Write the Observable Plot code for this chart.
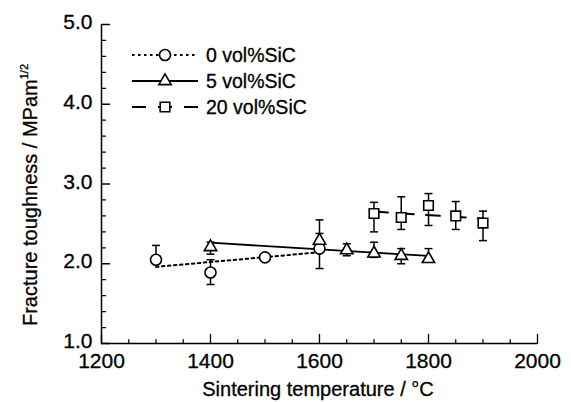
<!DOCTYPE html>
<html>
<head>
<meta charset="utf-8">
<script src="https://cdn.jsdelivr.net/npm/d3@7"></script>
<script src="https://cdn.jsdelivr.net/npm/@observablehq/plot@0.6"></script>
<style>
  body { margin: 0; background: #fff; }
  #chart { width: 571px; height: 402px; }
  #chart svg text { stroke: black; stroke-width: 0.3px; }
</style>
</head>
<body>
<div id="chart"></div>
<script>
// Fracture toughness (MPa·m^1/2) vs. sintering temperature (°C)
// 0 vol% SiC
const temps0 = [1300, 1400, 1500, 1600];
const tough0 = [2.05, 1.89, 2.08, 2.19];
const low0   = [2.05, 1.74, 2.08, 1.94];
const high0  = [2.23, 2.05, 2.08, 2.55];

// 5 vol% SiC
const temps5 = [1400, 1600, 1650, 1700, 1750, 1800];
const tough5 = [2.21, 2.29, 2.17, 2.13, 2.10, 2.06];
const low5   = [2.12, 2.20, 2.10, 2.08, 2.00, 2.06];
const high5  = [2.27, 2.38, 2.25, 2.27, 2.19, 2.19];

// 20 vol% SiC
const temps20 = [1700, 1750, 1800, 1850, 1900];
const tough20 = [2.63, 2.58, 2.73, 2.60, 2.51];
const low20   = [2.40, 2.43, 2.48, 2.43, 2.29];
const high20  = [2.77, 2.84, 2.88, 2.78, 2.66];

const seriesNames = ["0 vol%SiC", "5 vol%SiC", "20 vol%SiC"];

// Axis ticks
const xTicks = [1200, 1400, 1600, 1800, 2000];
const xMinorTicks = [1250, 1300, 1350, 1450, 1500, 1550, 1650, 1700, 1750, 1850, 1900, 1950];
const yTicks = [1, 2, 3, 4, 5];
const yMinorTicks = [1.2, 1.4, 1.6, 1.8, 2.2, 2.4, 2.6, 2.8, 3.2, 3.4, 3.6, 3.8, 4.2, 4.4, 4.6, 4.8];

const rows = (t, k, lo, hi) => t.map((x, i) => ({t: x, k: k[i], lo: lo[i], hi: hi[i]}));
const s0 = rows(temps0, tough0, low0, high0);
const s5 = rows(temps5, tough5, low5, high5);
const s20 = rows(temps20, tough20, low20, high20);

const FONT = '"Liberation Sans", Arial, Helvetica, sans-serif';

// Horizontal bar used for error-bar caps
const capSymbol = {
  draw(context, size) {
    const w = Math.sqrt(size / Math.PI);
    context.moveTo(-w, 0);
    context.lineTo(w, 0);
  }
};
// Plain tick stroke for the inward axis ticks
const tickShape = {
  draw(context, l) {
    context.moveTo(0, 0);
    context.lineTo(0, -l);
  }
};

const errorMarks = (data) => [
  Plot.ruleX(data.filter(d => d.hi > d.lo), {x: "t", y1: "lo", y2: "hi", stroke: "black", strokeWidth: 1.5}),
  Plot.dot(data.filter(d => d.hi > d.k), {x: "t", y: "hi", symbol: capSymbol, r: 4, fill: "none", stroke: "black", strokeWidth: 1.5}),
  Plot.dot(data.filter(d => d.lo < d.k), {x: "t", y: "lo", symbol: capSymbol, r: 4, fill: "none", stroke: "black", strokeWidth: 1.5})
];

const styles = [
  {dash: "2.5,3.5", width: 2, symbol: "circle", r: 5.5},
  {dash: null, width: 1.8, symbol: "triangle", r: 4.6},
  {dash: "14,12", width: 2, symbol: "square", r: 5.4}
];
const sets = [s0, s5, s20];

const plot = Plot.plot({
  width: 571,
  height: 402,
  marginLeft: 101,
  marginRight: 34,
  marginTop: 24,
  marginBottom: 59,
  style: {fontFamily: FONT, color: "black", background: "white", overflow: "visible"},
  x: {domain: [1200, 2000]},
  y: {domain: [1, 5]},
  marks: [
    // axis lines
    Plot.ruleY([1], {stroke: "black", strokeWidth: 1.5}),
    Plot.ruleX([1200], {stroke: "black", strokeWidth: 1.5}),
    // inward ticks
    Plot.vector(xTicks, {x: d => d, frameAnchor: "bottom", rotate: 0, length: 9, anchor: "start", shape: tickShape, stroke: "black", strokeWidth: 1.3}),
    Plot.vector(xMinorTicks, {x: d => d, frameAnchor: "bottom", rotate: 0, length: 4, anchor: "start", shape: tickShape, stroke: "black", strokeWidth: 1.2}),
    Plot.vector(yTicks, {y: d => d, frameAnchor: "left", rotate: 90, length: 8, anchor: "start", shape: tickShape, stroke: "black", strokeWidth: 1.3}),
    Plot.vector(yMinorTicks, {y: d => d, frameAnchor: "left", rotate: 90, length: 4, anchor: "start", shape: tickShape, stroke: "black", strokeWidth: 1.2}),
    // tick labels
    Plot.axisX({ticks: xTicks, tickSize: 0, tickPadding: 10, fontSize: 21, label: null, tickFormat: d => String(d)}),
    Plot.axisY({ticks: yTicks, tickSize: 0, tickPadding: 9, fontSize: 21, label: null, tickFormat: d3.format(".1f"), dy: -2}),
    // error bars
    ...sets.flatMap(errorMarks),
    // fitted trend lines
    ...sets.map((s, i) => Plot.linearRegressionY(s, {x: "t", y: "k", ci: 0, stroke: "black", strokeWidth: styles[i].width, strokeDasharray: styles[i].dash})),
    // data points
    ...sets.map((s, i) => Plot.dot(s, {x: "t", y: "k", symbol: styles[i].symbol, r: styles[i].r, fill: "white", stroke: "black", strokeWidth: 1.6}))
  ]
});

document.getElementById("chart").appendChild(plot);

const svg = d3.select(plot);

// Axis titles
svg.append("text")
  .attr("x", 318).attr("y", 396)
  .attr("text-anchor", "middle")
  .attr("font-family", FONT).attr("font-size", 20).attr("fill", "black")
  .text("Sintering temperature / °C");

const yTitle = svg.append("text")
  .attr("transform", "translate(37,195) rotate(-90)")
  .attr("text-anchor", "middle")
  .attr("font-family", FONT).attr("font-size", 20).attr("fill", "black");
yTitle.append("tspan").text("Fracture toughness / MPam");
yTitle.append("tspan").attr("font-size", 11).attr("dy", -9).text("1/2");

// Legend
const legend = svg.append("g")
  .attr("font-family", FONT).attr("font-size", 19.5)
  .attr("text-anchor", "start");
const symbolPaths = {
  circle: d3.symbol(d3.symbolCircle, Math.PI * 5.5 * 5.5)(),
  triangle: d3.symbol(d3.symbolTriangle, Math.PI * 4.6 * 4.6)(),
  square: d3.symbol(d3.symbolSquare, Math.PI * 5.4 * 5.4)()
};
seriesNames.forEach((name, i) => {
  const y = 55 + i * 26;
  const g = legend.append("g").attr("transform", `translate(0,${y})`);
  g.append("line")
    .attr("x1", 132).attr("x2", 198).attr("y1", 0).attr("y2", 0)
    .attr("stroke", "black").attr("stroke-width", styles[i].width)
    .attr("stroke-dasharray", styles[i].dash);
  g.append("path")
    .attr("d", symbolPaths[styles[i].symbol])
    .attr("transform", "translate(165,0)")
    .attr("fill", "white").attr("stroke", "black").attr("stroke-width", 1.6);
  g.append("text")
    .attr("x", 206).attr("y", 0).attr("dy", "0.35em")
    .attr("text-anchor", "start")
    .attr("fill", "black")
    .text(name);
});
</script>
</body>
</html>
